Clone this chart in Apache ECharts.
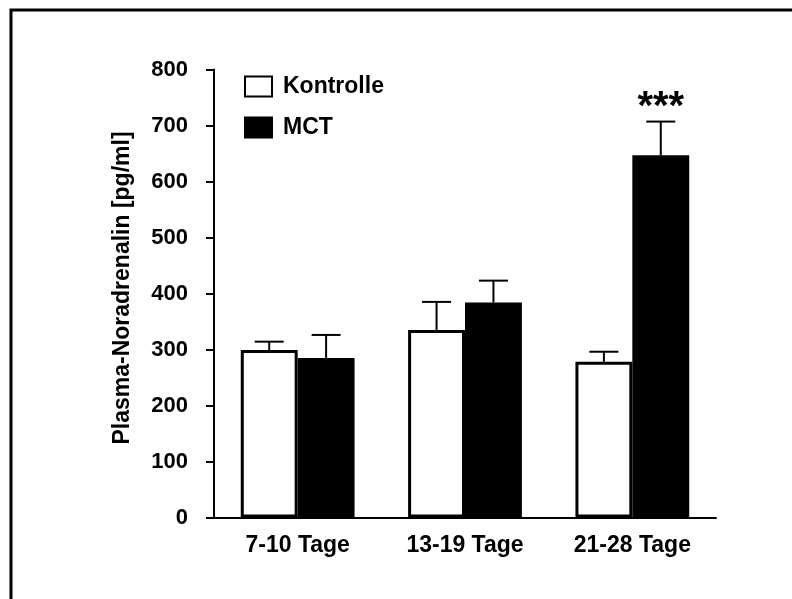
<!DOCTYPE html>
<html>
<head>
<meta charset="utf-8">
<script src="https://cdn.jsdelivr.net/npm/echarts@6/dist/echarts.min.js"></script>
<style>
  html, body { margin: 0; padding: 0; background: #fff; }
  #chart { width: 792px; height: 599px; }
</style>
</head>
<body>
<div id="chart"></div>
<script>
// Plasma noradrenaline by time after treatment (mean + SEM)
const categories = ['7-10 Tage', '13-19 Tage', '21-28 Tage'];
const kontrolle = [299, 335, 278];
const kontrolleErr = [15, 50, 18];
const mct = [285, 384, 647];
const mctErr = [41, 39, 60];
const significance = ['', '', '***'];
const yTicks = [0, 100, 200, 300, 400, 500, 600, 700, 800];

const FONT = '"Liberation Sans", Arial, sans-serif';
const CAT_GAP = 0.32;

const chart = echarts.init(document.getElementById('chart'), null, { renderer: 'canvas' });

// Error whiskers (upward only) plus significance marks, placed over each bar
function errorSeries(values, errs, side, marks) {
  return {
    type: 'custom',
    z: 5,
    silent: true,
    data: values.map((v, i) => [i, v, errs[i], marks ? marks[i] : '']),
    renderItem: function (params, api) {
      const i = api.value(0);
      const v = api.value(1);
      const e = api.value(2);
      const band = api.size([1, 0])[0];
      const barW = band * (1 - CAT_GAP) / 2;
      const base = api.coord([i, v]);
      const top = api.coord([i, v + e]);
      const x = base[0] + side * barW / 2;
      const cap = 14.5;
      const style = { stroke: '#000', lineWidth: 2 };
      const children = [
        { type: 'line', shape: { x1: x, y1: base[1], x2: x, y2: top[1] }, style: style },
        { type: 'line', shape: { x1: x - cap, y1: top[1], x2: x + cap, y2: top[1] }, style: style }
      ];
      const mark = api.value(3);
      if (mark) {
        children.push({
          type: 'text',
          style: {
            text: mark, x: x, y: top[1] + 6,
            align: 'center', verticalAlign: 'bottom',
            font: 'bold 40px ' + FONT, fill: '#000'
          }
        });
      }
      return { type: 'group', children: children };
    }
  };
}

chart.setOption({
  animation: false,
  backgroundColor: '#fff',
  grid: { left: 214, right: 76, top: 69.5, bottom: 81.5, containLabel: false },
  legend: {
    orient: 'vertical',
    left: 239,
    top: 70,
    icon: 'rect',
    itemWidth: 27,
    itemHeight: 20,
    itemGap: 18,
    itemStyle: { borderWidth: 2 },
    textStyle: { fontFamily: FONT, fontWeight: 'bold', fontSize: 23, color: '#000', padding: [0, 0, 0, 6] },
    data: ['Kontrolle', 'MCT']
  },
  xAxis: {
    type: 'category',
    data: categories,
    axisLine: { lineStyle: { color: '#000', width: 2 } },
    axisTick: { show: false },
    axisLabel: { fontFamily: FONT, fontWeight: 'bold', fontSize: 23, color: '#000', margin: 17 }
  },
  yAxis: {
    type: 'value',
    min: 0,
    max: 800,
    interval: 100,
    axisLine: { show: true, lineStyle: { color: '#000', width: 2 } },
    axisTick: { show: true, length: 8, lineStyle: { color: '#000', width: 2 } },
    splitLine: { show: false },
    axisLabel: {
      fontFamily: FONT, fontWeight: 'bold', fontSize: 22, color: '#000', margin: 26,
      formatter: function (v) { return yTicks.indexOf(v) >= 0 ? String(v) : ''; }
    }
  },
  graphic: [
    {
      type: 'rect',
      shape: { x: 11, y: 10, width: 900, height: 900 },
      style: { fill: 'none', stroke: '#000', lineWidth: 3 },
      silent: true
    },
    {
      type: 'text',
      x: 123, y: 288,
      rotation: Math.PI / 2,
      style: {
        text: 'Plasma-Noradrenalin [pg/ml]',
        align: 'center', verticalAlign: 'middle',
        font: 'bold 23px ' + FONT, fill: '#000'
      }
    }
  ],
  series: [
    {
      name: 'Kontrolle',
      type: 'bar',
      data: kontrolle,
      barGap: '0%',
      barCategoryGap: (CAT_GAP * 100) + '%',
      itemStyle: { color: '#fff', borderColor: '#000', borderWidth: 3 }
    },
    {
      name: 'MCT',
      type: 'bar',
      data: mct,
      barGap: '0%',
      barCategoryGap: (CAT_GAP * 100) + '%',
      itemStyle: { color: '#000', borderColor: '#000', borderWidth: 2 }
    },
    errorSeries(kontrolle, kontrolleErr, -1, null),
    errorSeries(mct, mctErr, 1, significance)
  ]
});
</script>
</body>
</html>
